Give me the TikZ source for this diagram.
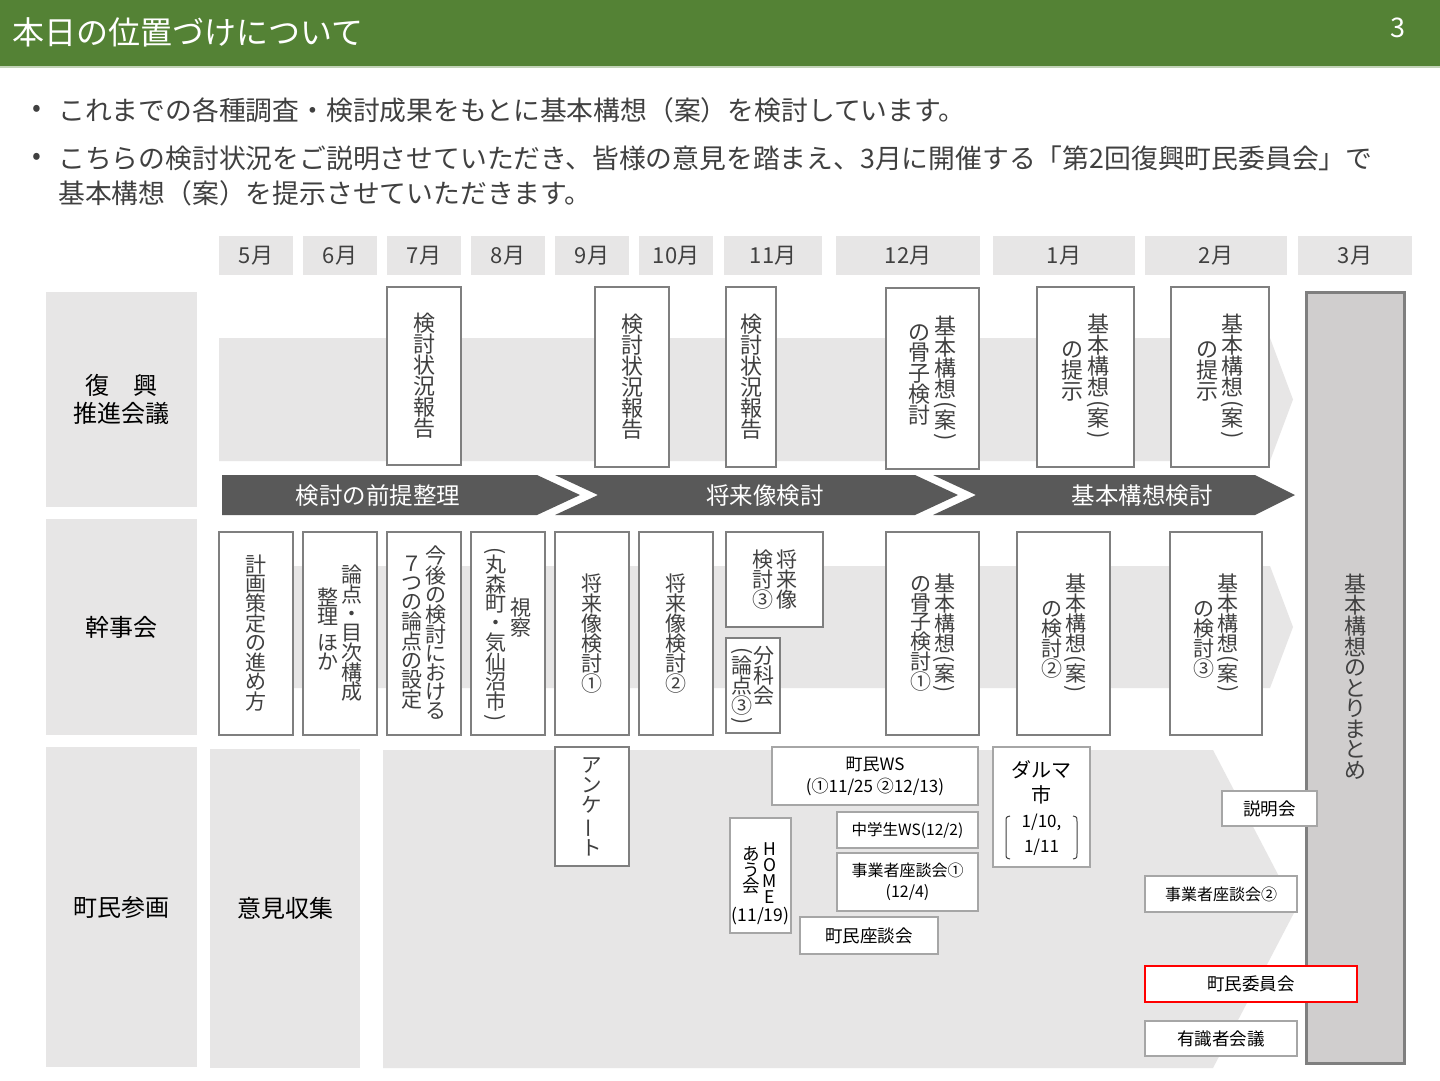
\documentclass[tikz,border=0pt]{standalone}
\usepackage{fontspec}
\setmainfont{Noto Sans CJK JP}
\usepackage{graphicx}

\definecolor{hdgreen}{HTML}{548235}
\definecolor{bandgray}{HTML}{E7E6E6}
\definecolor{phasegray}{HTML}{595959}
\definecolor{boxline}{HTML}{7F7F7F}
\definecolor{boxlinelt}{HTML}{A6A6A6}
\definecolor{sumfill}{HTML}{D0CECE}
\definecolor{txt}{HTML}{404040}

% vertical (tate) writing: one character per row
\newlength\tp
\newcommand\tfont[2]{\fontsize{#1}{#1}\selectfont\setlength\tp{#2pt}}
\def\tstrut{\vrule height .88\tp depth .12\tp width 0pt\relax}
\newcommand\tatechar[1]{\hbox to \tp{\hss#1\tstrut\hss}}
\newcommand\vlp{\smash{\raisebox{-.13\tp}{\rotatebox[origin=c]{-90}{(}}}\def\tstrut{\vrule height .5\tp width 0pt\relax}}
\newcommand\vrp{\smash{\raisebox{-.13\tp}{\rotatebox[origin=c]{-90}{)}}}\def\tstrut{\vrule height .5\tp width 0pt\relax}}
\newcommand\vsp{\def\tstrut{\vrule height .35\tp width 0pt\relax}}
\newcommand\vbar{\rotatebox[origin=c]{90}{ー}}
\ExplSyntaxOn
\tl_new:N \l_tate_rows_tl
\NewDocumentCommand\tcol{O{0pt}m}
  {
    \tl_clear:N \l_tate_rows_tl
    \tl_map_inline:nn {#2}
      { \tl_put_right:Nn \l_tate_rows_tl { \tatechar{##1} } }
    \raisebox{-#1}{\vtop{\offinterlineskip \l_tate_rows_tl}}
  }
\ExplSyntaxOff

\begin{document}
\begin{tikzpicture}[x=1pt, y=-1pt,
    lab/.style={fill=bandgray, minimum width=151, inner sep=0pt, align=center, font=\fontsize{24}{28}\selectfont},
    month/.style={fill=bandgray, minimum height=39, inner sep=0pt, text=txt, font=\fontsize{22}{22}\selectfont},
    phase/.style={text=white, inner sep=0pt, font=\fontsize{23.5}{24}\selectfont},
    tbox/.style={draw=boxline, line width=2pt, fill=white, inner sep=0pt, text=txt},
    tboxa/.style={tbox, minimum height=180, font=\tfont{22}{20.5}},
    tboxb/.style={tbox, minimum height=203, font=\tfont{21}{19}},
    ibox/.style={draw=boxlinelt, line width=1.5pt, fill=white, inner sep=0pt, align=center, font=\fontsize{17.5}{22}\selectfont}
  ]
    \useasboundingbox (0,0) rectangle (1440,1080);
    \fill[white] (0,0) rectangle (1440,1080);

    % header
    \fill[hdgreen] (0,0) rectangle (1440,66);
    \fill[hdgreen!35] (0,66) rectangle (1440,68);
    \node[anchor=west, text=white, inner sep=0pt, font=\fontsize{32}{32}\selectfont] (title) at (12,32) {本日の位置づけについて};
    \node[text=white, inner sep=0pt, font=\fontsize{27}{27}\selectfont] (pageno) at (1398,28) {3};

    % bullets
    \node[text=txt, inner sep=0pt, font=\fontsize{26}{26}\selectfont] (dot1) at (37,111) {•};
    \node[text=txt, inner sep=0pt, font=\fontsize{26}{26}\selectfont] (dot2) at (37,159) {•};
    \node[anchor=west, text=txt, inner sep=0pt, font=\fontsize{26.8}{26.8}\selectfont] (bul1) at (58,110)
        {これまでの各種調査・検討成果をもとに基本構想（案）を検討しています。};
    \node[anchor=west, text=txt, inner sep=0pt, font=\fontsize{26.8}{26.8}\selectfont] (bul2) at (58,158)
        {こちらの検討状況をご説明させていただき、皆様の意見を踏まえ、3月に開催する「第2回復興町民委員会」で};
    \node[anchor=west, text=txt, inner sep=0pt, font=\fontsize{26.8}{26.8}\selectfont] (bul3) at (58,193)
        {基本構想（案）を提示させていただきます。};

    % months
    \foreach \cx/\w/\m [count=\i] in {256/74/5, 340/74/6, 424/74/7, 508/74/8, 592/74/9, 676/74/10,
                                      773/98/11, 908/144/12, 1064/142/1, 1216/142/2, 1355/114/3}
        \node[month, minimum width=\w] (mon\i) at (\cx,255.5) {\m 月};

    % background arrows
    \fill[bandgray] (219,338) -- (1270,338) -- (1293,399.5) -- (1270,461) -- (219,461) -- cycle;
    \fill[bandgray] (219,566) -- (1270,566) -- (1293,627) -- (1270,688) -- (219,688) -- cycle;
    \fill[bandgray] (383,750) -- (1213,750) -- (1296,909) -- (1213,1068) -- (383,1068) -- cycle;

    % row labels
    \node[lab, minimum height=215] (suishin) at (121.5,399.5) {復　興\\推進会議};
    \node[lab, minimum height=216] (kanji) at (121.5,627) {幹事会};
    \node[lab, minimum height=320] (chomin) at (121.5,907) {町民参画};
    \node[lab, minimum width=150, minimum height=319] (iken) at (285,908.5) {意見収集};

    % phases
    \fill[phasegray] (222,475) -- (537,475) -- (580,495) -- (537,515) -- (222,515) -- cycle;
    \fill[phasegray] (555,475) -- (915,475) -- (958,495) -- (915,515) -- (555,515) -- (598,495) -- cycle;
    \fill[phasegray] (933,475) -- (1255,475) -- (1295,495) -- (1255,515) -- (933,515) -- (976,495) -- cycle;
    \node[phase] (ph1) at (378,496) {検討の前提整理};
    \node[phase] (ph2) at (765,496) {将来像検討};
    \node[phase] (ph3) at (1142,496) {基本構想検討};

    % 復興推進会議
    \node[tboxa, minimum width=74, minimum height=178] (s7) at (424,376) {\tcol{検討状況報告}};
    \node[tboxa, minimum width=74] (s9) at (632,377) {\tcol{検討状況報告}};
    \node[tboxa, minimum width=50] (s11) at (751,377) {\tcol{検討状況報告}};
    \node[tboxa, minimum width=93, minimum height=181] (s12) at (932.5,378.5)
        {\tcol[6pt]{の骨子検討}\hspace{5pt}\tcol{基本構想\vlp 案\vrp}};
    \node[tboxa, minimum width=97] (s1) at (1085.5,377)
        {\tcol[25pt]{の提示}\hspace{5pt}\tcol{基本構想\vlp 案\vrp}};
    \node[tboxa, minimum width=98] (s2) at (1220,377)
        {\tcol[25pt]{の提示}\hspace{5pt}\tcol{基本構想\vlp 案\vrp}};

    % 幹事会
    \node[tboxb, minimum width=74] (k5) at (256,633.5) {\tcol{計画策定の進め方}};
    \node[tboxb, minimum width=74] (k6) at (340,633.5) {\tcol[23pt]{整理\vsp ほか}\hspace{5pt}\tcol{論点・目次構成}};
    \node[tboxb, minimum width=74] (k7) at (424,633.5) {\tcol[8pt]{７つの論点の設定}\hspace{5pt}\tcol{今後の検討における}};
    \node[tboxb, minimum width=74] (k8) at (508,633.5) {\tcol{\vlp 丸森町・気仙沼市\vrp}\hspace{6pt}\tcol[61pt]{視察}};
    \node[tboxb, minimum width=74] (k9) at (592,633.5) {\tcol{将来像検討①}};
    \node[tboxb, minimum width=74] (k10) at (676,633.5) {\tcol{将来像検討②}};
    \node[tboxb, minimum width=97, minimum height=95] (k11a) at (774.5,579.5) {\tcol{検討③}\hspace{5pt}\tcol{将来像}};
    \node[tboxb, minimum width=54, minimum height=95] (k11b) at (753,685.5) {\tcol{\vlp 論点③\vrp}\hspace{3pt}\tcol[8pt]{分科会}};
    \node[tboxb, minimum width=93] (k12) at (932.5,633.5) {\tcol{の骨子検討①}\hspace{5pt}\tcol{基本構想\vlp 案\vrp}};
    \node[tboxb, minimum width=93] (k1) at (1063.5,633.5) {\tcol[25pt]{の検討②}\hspace{5pt}\tcol{基本構想\vlp 案\vrp}};
    \node[tboxb, minimum width=92] (k2) at (1216,633.5) {\tcol[25pt]{の検討③}\hspace{5pt}\tcol{基本構想\vlp 案\vrp}};

    % まとめ
    \node[draw=boxline, line width=3pt, fill=sumfill, inner sep=0pt, minimum width=98, minimum height=771,
          text=txt, font=\tfont{22}{20.5}] (matome) at (1355,677.5) {\tcol{基本構想のとりまとめ}};

    % 町民参画
    \node[ibox, draw=boxline, line width=2pt, minimum width=74, minimum height=119, text=txt, font=\tfont{20.5}{20}] (anke) at (592,806.5) {\tcol{アンケ\vbar ト}};
    \node[ibox, minimum width=206, minimum height=58, font=\fontsize{17}{22}\selectfont] (ws) at (875,776) {町民WS\\(①11/25 ②12/13)};
    \node[ibox, minimum width=141, minimum height=36, font=\fontsize{15.5}{20}\selectfont] (chu) at (907.5,830) {中学生WS(12/2)};
    \node[ibox, minimum width=141, minimum height=58, font=\fontsize{16}{21}\selectfont] (jig1) at (907.5,882) {事業者座談会①\\(12/4)};
    \node[ibox, minimum width=61, minimum height=115] (home) at (760.5,875.5) {};
    \node[align=center, inner sep=0pt, font=\tfont{17.5}{16}] (hometxt) at (760.5,883)
        {\tcol[5pt]{あう会}\hspace{2pt}\tcol{HOME}\\[1pt](11/19)};
    \node[ibox, minimum width=138, minimum height=37] (zadan) at (869,935.5) {町民座談会};
    \node[ibox, minimum width=97, minimum height=120] (daruma) at (1041.5,807) {};
    \node[align=center, inner sep=0pt, font=\fontsize{20}{25}\selectfont] (darumatxt) at (1041.5,808)
        {ダルマ\\市\\\fontsize{17}{24}\selectfont 1/10,\\\fontsize{17}{24}\selectfont 1/11};
    \draw[txt, line width=1pt] (1010,816) .. controls (1006,817) .. (1006,822) -- (1006,853) .. controls (1006,858) .. (1010,859);
    \draw[txt, line width=1pt] (1073,816) .. controls (1077,817) .. (1077,822) -- (1077,853) .. controls (1077,858) .. (1073,859);
    \node[ibox, minimum width=95, minimum height=35] (setsu) at (1269.5,808.5) {説明会};
    \node[ibox, minimum width=152, minimum height=36, font=\fontsize{16}{20}\selectfont] (jig2) at (1221,894) {事業者座談会②};
    \node[ibox, draw=red, minimum width=212, minimum height=36] (iin) at (1251,984) {町民委員会};
    \node[ibox, minimum width=152, minimum height=35] (yushiki) at (1221,1038.5) {有識者会議};
\end{tikzpicture}
\end{document}
